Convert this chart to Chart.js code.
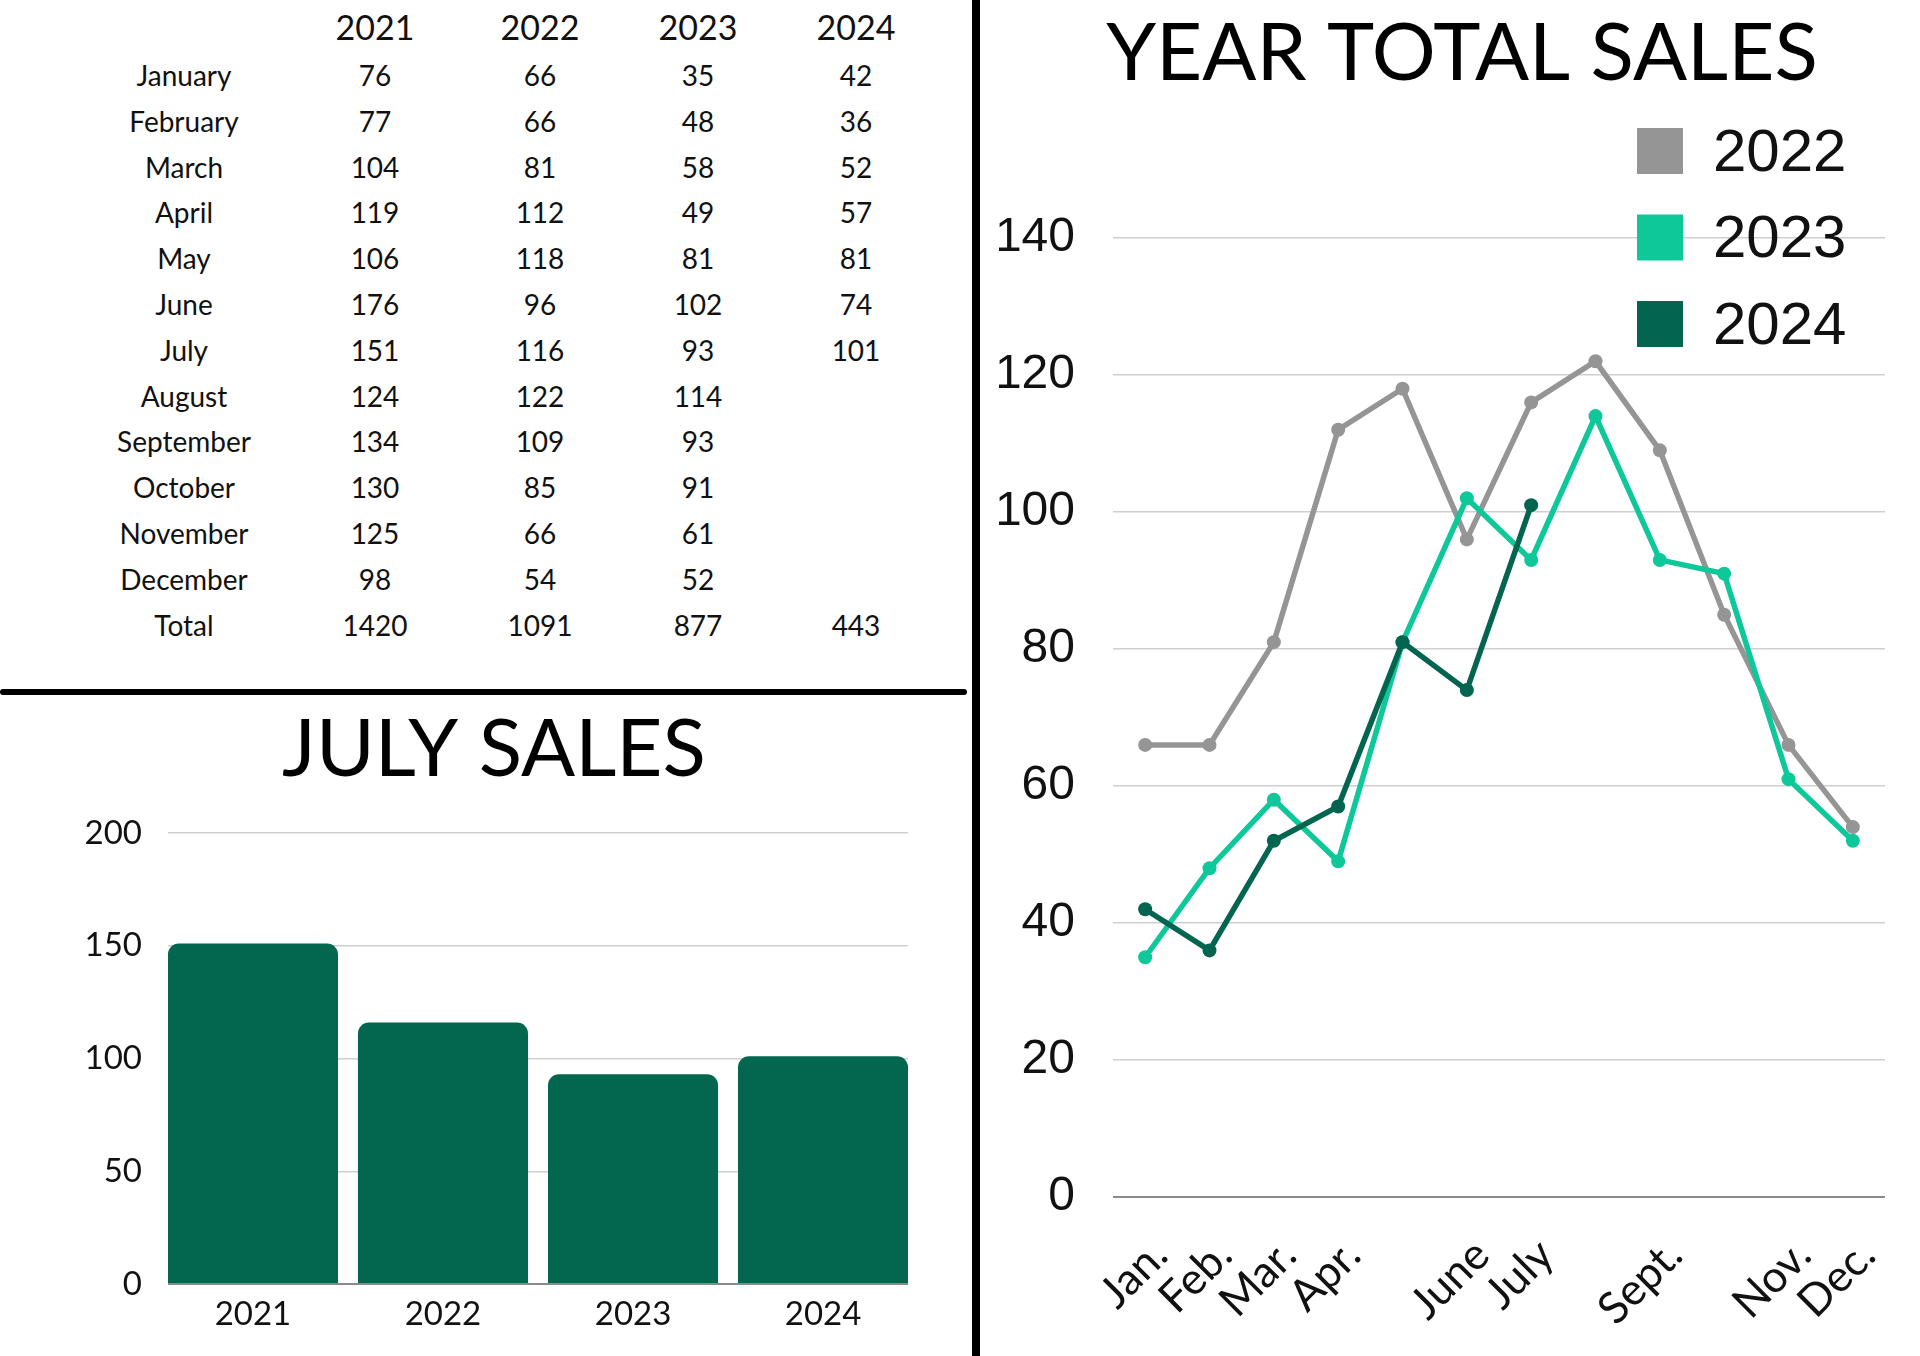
<!DOCTYPE html>
<html>
<head>
<meta charset="utf-8">
<script src="https://cdn.jsdelivr.net/npm/chart.js@4.4.1/dist/chart.umd.min.js"></script>
<style>
  html, body { margin: 0; padding: 0; background: #fff; overflow: hidden; }
  #page { position: relative; width: 1920px; height: 1356px; overflow: hidden; background: #fff; font-family: Lato, sans-serif; color: #111; }
  #tbl { position: absolute; left: 84px; top: 0; border-collapse: collapse; table-layout: fixed; width: 846px; }
  #tbl th, #tbl td { padding: 0; text-align: center; font-weight: normal; white-space: nowrap; }
  #tbl th { font-size: 34px; height: 53px; line-height: 53px; }
  #tbl td { font-size: 28px; height: 45.8px; line-height: 45.8px; }
  .hline { position: absolute; left: 0; top: 689px; width: 967px; height: 6px; background: #000; border-radius: 3px; }
  .vline { position: absolute; left: 972px; top: 0; width: 8px; height: 1356px; background: #000; }
  #barWrap { position: absolute; left: 0; top: 700px; width: 971px; height: 656px; }
  #lineWrap { position: absolute; left: 980px; top: 0; width: 985px; height: 1356px; }
  canvas { display: block; }
</style>
</head>
<body>
<div id="page">
  <table id="tbl">
    <colgroup>
      <col style="width:200px"><col style="width:182px"><col style="width:148px"><col style="width:168px"><col style="width:148px">
    </colgroup>
    <thead><tr id="headRow"></tr></thead>
    <tbody id="tbody"></tbody>
  </table>
  <div id="barWrap"><canvas id="barChart" width="971" height="656" style="width:971px;height:656px"></canvas></div>
  <div id="lineWrap"><canvas id="lineChart" width="985" height="1356" style="width:985px;height:1356px"></canvas></div>
  <div class="hline"></div>
  <div class="vline"></div>
</div>
<script>
// ---------- DATA ----------
const tableYears = ['2021', '2022', '2023', '2024'];
const monthNames = ['January', 'February', 'March', 'April', 'May', 'June', 'July', 'August', 'September', 'October', 'November', 'December'];
const sales2021 = [76, 77, 104, 119, 106, 176, 151, 124, 134, 130, 125, 98];
const sales2022 = [66, 66, 81, 112, 118, 96, 116, 122, 109, 85, 66, 54];
const sales2023 = [35, 48, 58, 49, 81, 102, 93, 114, 93, 91, 61, 52];
const sales2024 = [42, 36, 52, 57, 81, 74, 101];
const yearTotals = [1420, 1091, 877, 443];

const julyYears = ['2021', '2022', '2023', '2024'];
const julySales = [151, 116, 93, 101];

const monthTickLabels = ['Jan.', 'Feb.', 'Mar.', 'Apr.', '', 'June', 'July', '', 'Sept.', '', 'Nov.', 'Dec.'];
const lineSeriesLabels = ['2022', '2023', '2024'];
const lineColors = ['#959595', '#0fc89a', '#03654f'];
const barColor = '#03664f';

// ---------- TABLE ----------
(function buildTable() {
  const head = document.getElementById('headRow');
  head.appendChild(document.createElement('th'));
  tableYears.forEach(y => { const th = document.createElement('th'); th.textContent = y; head.appendChild(th); });
  const body = document.getElementById('tbody');
  const cols = [sales2021, sales2022, sales2023, sales2024];
  monthNames.forEach((m, i) => {
    const tr = document.createElement('tr');
    const td0 = document.createElement('td'); td0.textContent = m; tr.appendChild(td0);
    cols.forEach(c => { const td = document.createElement('td'); td.textContent = (c[i] !== undefined) ? c[i] : ''; tr.appendChild(td); });
    body.appendChild(tr);
  });
  const tr = document.createElement('tr');
  const td0 = document.createElement('td'); td0.textContent = 'Total'; tr.appendChild(td0);
  yearTotals.forEach(t => { const td = document.createElement('td'); td.textContent = t; tr.appendChild(td); });
  body.appendChild(tr);
})();

// ---------- CHARTS ----------
Chart.defaults.font.family = 'Lato';
Chart.defaults.color = '#111';

const gridColor = c => (c.tick && c.tick.value === 0) ? '#8a8a8a' : '#cfcfcf';
const gridWidth = c => (c.tick && c.tick.value === 0) ? 2 : 1.5;

new Chart(document.getElementById('barChart'), {
  type: 'bar',
  data: {
    datasets: [{
      label: 'July',
      data: julySales.map((v, i) => ({ x: i, y: v })),
      backgroundColor: barColor,
      borderRadius: { topLeft: 11, topRight: 11, bottomLeft: 0, bottomRight: 0 },
      borderSkipped: 'start',
      barPercentage: 0.895,
      categoryPercentage: 1
    }]
  },
  options: {
    responsive: false,
    animation: false,
    layout: { padding: { left: 80, right: 63, top: 0, bottom: 0 } },
    plugins: {
      legend: { display: false },
      tooltip: { enabled: false },
      title: {
        display: true, text: 'JULY SALES', color: '#000',
        font: { family: 'Lato', size: 80, weight: 'normal', lineHeight: 1.2 },
        padding: { top: 2, bottom: 35 }
      }
    },
    scales: {
      x: {
        type: 'linear', min: -0.447, max: 3.447, offset: false,
        grid: { display: false, drawTicks: false },
        border: { display: false },
        afterBuildTicks: s => { s.ticks = julyYears.map((_, i) => ({ value: i })); },
        ticks: { autoSkip: false, padding: 11, color: '#111', font: { family: 'Lato', size: 33 },
                 callback: v => (julyYears[v] !== undefined ? julyYears[v] : '') },
        afterFit: s => { s.height = 72; }
      },
      y: {
        min: 0, max: 200,
        ticks: { stepSize: 50, padding: 26, color: '#111', font: { family: 'Lato', size: 33 } },
        grid: { drawTicks: false, color: gridColor, lineWidth: gridWidth },
        border: { display: false },
        afterFit: s => { s.width = 88; }
      }
    }
  }
});

const cornerLegend = {
  id: 'cornerLegend',
  afterDraw(chart) {
    const { ctx, chartArea } = chart;
    ctx.save();
    ctx.font = '60px "Liberation Sans", Arial, sans-serif';
    ctx.textBaseline = 'middle';
    ctx.textAlign = 'left';
    chart.data.datasets.forEach((ds, i) => {
      const cy = chartArea.top - 87 + i * 86.5;
      const x = chartArea.right - 248;
      ctx.fillStyle = ds.borderColor;
      ctx.fillRect(x, cy - 23, 46, 46);
      ctx.fillStyle = '#111';
      ctx.fillText(ds.label, x + 76, cy + 3);
    });
    ctx.restore();
  }
};

const lineData = [sales2022, sales2023, sales2024];
new Chart(document.getElementById('lineChart'), {
  type: 'line',
  data: {
    labels: monthTickLabels,
    datasets: lineSeriesLabels.map((lab, i) => ({
      label: lab,
      data: lineData[i],
      borderColor: lineColors[i],
      backgroundColor: lineColors[i],
      pointBackgroundColor: lineColors[i],
      pointBorderColor: lineColors[i],
      pointRadius: 7,
      pointBorderWidth: 0,
      borderWidth: 5.5,
      tension: 0,
      fill: false,
      order: 2 - i
    }))
  },
  options: {
    responsive: false,
    animation: false,
    layout: { padding: { left: 19, right: 40, top: 0, bottom: 0 } },
    plugins: {
      legend: { display: false },
      tooltip: { enabled: false },
      title: {
        display: true, text: 'YEAR TOTAL SALES', color: '#000',
        font: { family: 'Lato', size: 80, weight: 'normal', lineHeight: 1.2 },
        padding: { top: 6, bottom: 136 }
      }
    },
    scales: {
      x: {
        offset: true,
        grid: { display: false, drawTicks: false },
        border: { display: false },
        ticks: { autoSkip: false, minRotation: 45, maxRotation: 45, padding: 32, labelOffset: 15,
                 color: '#111', font: { family: 'Lato', size: 44 } },
        afterFit: s => { s.height = 159; }
      },
      y: {
        min: 0, max: 140,
        ticks: { stepSize: 20, padding: 38, color: '#111', font: { family: '"Liberation Sans", Arial, sans-serif', size: 48 } },
        grid: { drawTicks: false, color: gridColor, lineWidth: gridWidth },
        border: { display: false },
        afterFit: s => { s.width = 114; }
      },
      spacer: {
        type: 'linear', axis: 'y', position: 'right', display: true,
        grid: { display: false, drawTicks: false },
        border: { display: false },
        ticks: { display: false },
        afterFit: s => { s.width = 40; }
      }
    }
  },
  plugins: [cornerLegend]
});
</script>
</body>
</html>
